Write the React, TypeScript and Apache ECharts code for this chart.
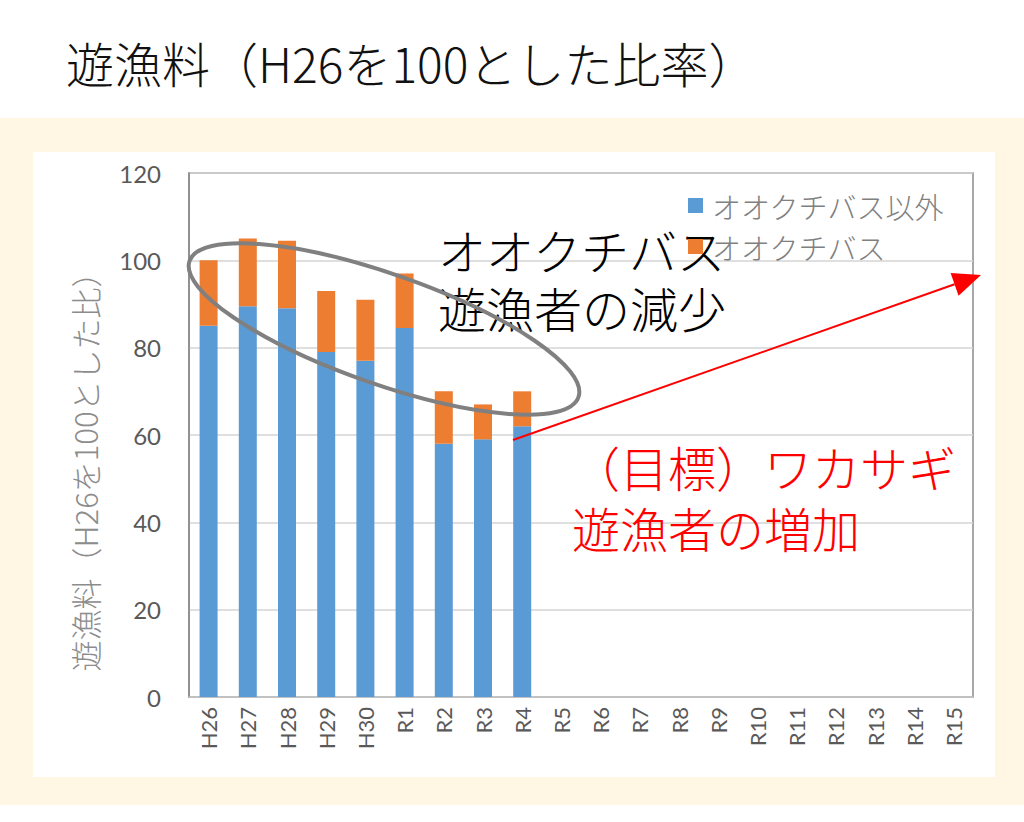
import React, { useEffect, useRef } from "react";
import * as echarts from "echarts";

const categories = [
  "H26", "H27", "H28", "H29", "H30", "R1", "R2", "R3", "R4", "R5",
  "R6", "R7", "R8", "R9", "R10", "R11", "R12", "R13", "R14", "R15",
];
const otherLabel = "オオクチバス以外";
const bassLabel = "オオクチバス";
const otherValues = [85, 89.5, 89, 79, 77, 84.5, 58, 59, 62];
const bassValues = [15, 15.5, 15.5, 14, 14, 12.5, 12, 8, 8];
const yMin = 0;
const yMax = 120;
const yInterval = 20;

const titleText = "遊漁料（H26を100とした比率）";
const yAxisTitle = "遊漁料（H26を100とした比）";
const noteBlack = ["オオクチバス", "遊漁者の減少"];
const noteRed = ["（目標）ワカサギ", "遊漁者の増加"];

const JP = "'Noto Sans CJK JP', sans-serif";
const NUM = "Lato, 'Noto Sans CJK JP', sans-serif";

export default function App() {
  const ref = useRef<HTMLDivElement>(null);
  useEffect(() => {
    if (!ref.current) return;
    const chart = echarts.init(ref.current, null, { renderer: "svg" });

    const ax0 = 513, ay0 = 440, ax1 = 981, ay1 = 275;
    const dx = ax1 - ax0, dy = ay1 - ay0;
    const L = Math.hypot(dx, dy);
    const ux = dx / L, uy = dy / L;
    const hl = 28, hw = 12;
    const bx = ax1 - ux * hl, by = ay1 - uy * hl;

    const ellAngle = Math.atan2(68, 194);

    const noteStyle = (text: string, fill: string) => ({
      text,
      fontSize: 48,
      fontFamily: JP,
      fontWeight: 300,
      fill,
      align: "left",
      verticalAlign: "middle",
    });

    chart.setOption({
      animation: false,
      backgroundColor: "#ffffff",
      grid: {
        left: 189,
        top: 173,
        width: 784,
        height: 524,
        show: true,
        borderColor: "#8a8a8a",
        borderWidth: 1.5,
        backgroundColor: "transparent",
        containLabel: false,
      },
      legend: {
        data: [otherLabel, bassLabel],
        orient: "vertical",
        left: 683,
        top: 186,
        itemWidth: 15,
        itemHeight: 15,
        itemGap: 12,
        icon: "rect",
        textStyle: {
          fontSize: 29,
          color: "#808080",
          fontFamily: JP,
          fontWeight: 300,
          padding: [0, 0, 0, 4],
        },
      },
      xAxis: {
        type: "category",
        data: categories,
        axisLine: { show: true, lineStyle: { color: "#bfbfbf", width: 1.5 } },
        axisTick: { show: false },
        axisLabel: {
          rotate: 90,
          fontSize: 22,
          color: "#595959",
          fontFamily: NUM,
          margin: 10,
          interval: 0,
        },
      },
      yAxis: {
        type: "value",
        min: yMin,
        max: yMax,
        interval: yInterval,
        axisLine: { show: true, lineStyle: { color: "#8a8a8a", width: 1.5 } },
        axisTick: { show: false },
        splitLine: { show: true, lineStyle: { color: "#d4d4d4", width: 1.5 } },
        axisLabel: { fontSize: 24, color: "#595959", fontFamily: NUM, margin: 28 },
      },
      series: [
        {
          name: otherLabel,
          type: "bar",
          stack: "total",
          data: otherValues,
          barWidth: 18,
          itemStyle: { color: "#5B9BD5" },
        },
        {
          name: bassLabel,
          type: "bar",
          stack: "total",
          data: bassValues,
          barWidth: 18,
          itemStyle: { color: "#ED7D31" },
        },
      ],
      graphic: [
        {
          type: "rect",
          z: -20,
          silent: true,
          shape: { x: 0, y: 118, width: 1024, height: 687 },
          style: { fill: "#FFF6E3" },
        },
        {
          type: "rect",
          z: -19,
          silent: true,
          shape: { x: 33, y: 152, width: 962, height: 625 },
          style: { fill: "#ffffff" },
        },
        {
          type: "text",
          x: 66,
          y: 62,
          style: {
            text: titleText,
            fontSize: 48,
            fontFamily: JP,
            fontWeight: 300,
            fill: "#111111",
            align: "left",
            verticalAlign: "middle",
          },
        },
        {
          type: "text",
          x: 84,
          y: 464,
          rotation: Math.PI / 2,
          style: {
            text: yAxisTitle,
            fontSize: 31,
            fontFamily: JP,
            fontWeight: 300,
            fill: "#8c8c8c",
            align: "center",
            verticalAlign: "middle",
          },
        },
        { type: "text", x: 438, y: 249, z: 3, style: noteStyle(noteBlack[0], "#000000") },
        { type: "text", x: 438, y: 307, z: 3, style: noteStyle(noteBlack[1], "#000000") },
        { type: "text", x: 572, y: 466, z: 3, style: noteStyle(noteRed[0], "#ff0000") },
        { type: "text", x: 572, y: 527, z: 3, style: noteStyle(noteRed[1], "#ff0000") },
        {
          type: "ellipse",
          x: 384,
          y: 329,
          rotation: -ellAngle,
          z: 50,
          shape: { cx: 0, cy: 0, rx: 206, ry: 55 },
          style: { fill: "none", stroke: "#808080", lineWidth: 4 },
        },
        {
          type: "line",
          z: 50,
          shape: { x1: ax0, y1: ay0, x2: bx, y2: by },
          style: { stroke: "#ff0000", lineWidth: 2 },
        },
        {
          type: "polygon",
          z: 50,
          shape: {
            points: [
              [ax1, ay1],
              [bx - uy * hw, by + ux * hw],
              [bx + uy * hw, by - ux * hw],
            ],
          },
          style: { fill: "#ff0000" },
        },
      ],
    });
    return () => chart.dispose();
  }, []);
  return (
    <div
      ref={ref}
      style={{ position: "absolute", left: 0, top: 0, width: 1024, height: 822 }}
    />
  );
}
